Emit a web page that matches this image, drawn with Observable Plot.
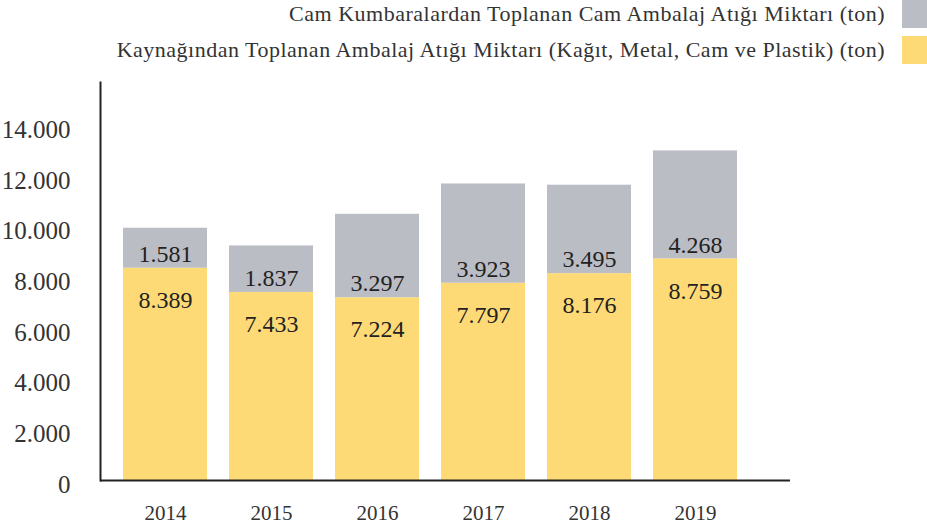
<!DOCTYPE html>
<html>
<head>
<meta charset="utf-8">
<script src="https://cdn.jsdelivr.net/npm/d3@7"></script>
<script src="https://cdn.jsdelivr.net/npm/@observablehq/plot@0.6"></script>
<style>
  html, body { margin: 0; padding: 0; background: #fff; }
  body { width: 927px; height: 531px; overflow: hidden; font-family: "Liberation Serif", serif; color: #333; }
  #legend { position: relative; height: 70px; }
  .row { position: absolute; right: 0; display: flex; align-items: center; }
  .row span { font-size: 22px; letter-spacing: 0.5px; color: #333; margin-right: 17px; white-space: nowrap; }
  .sw { width: 25px; height: 28px; }
</style>
</head>
<body>
<div id="legend"></div>
<div id="chart"></div>
<script>
const years = ["2014", "2015", "2016", "2017", "2018", "2019"];
const kaynak = [8389, 7433, 7224, 7797, 8176, 8759];   // yellow, bottom
const kumbara = [1581, 1837, 3297, 3923, 3495, 4268];  // gray, top
const seriesNames = [
  "Cam Kumbaralardan Toplanan Cam Ambalaj Atığı Miktarı (ton)",
  "Kaynağından Toplanan Ambalaj Atığı Miktarı (Kağıt, Metal, Cam ve Plastik) (ton)"
];
const seriesColors = ["#bbbdc5", "#fdda75"];
const yTicks = [0, 2000, 4000, 6000, 8000, 10000, 12000, 14000];

// legend
const legend = document.getElementById("legend");
seriesNames.forEach((name, i) => {
  const row = document.createElement("div");
  row.className = "row";
  row.style.top = (i === 0 ? 0 : 36) + "px";
  const s = document.createElement("span");
  s.textContent = name;
  const sw = document.createElement("div");
  sw.className = "sw";
  sw.style.background = seriesColors[i];
  row.appendChild(s);
  row.appendChild(sw);
  legend.appendChild(row);
});

const data = [];
years.forEach((y, i) => {
  data.push({year: y, series: seriesNames[1], value: kaynak[i], order: 0});
  data.push({year: y, series: seriesNames[0], value: kumbara[i], order: 1});
});
const fmt = v => d3.format(",")(v).replace(/,/g, ".");

const chart = Plot.plot({
  width: 927,
  height: 461,
  marginLeft: 100,
  marginRight: 137,
  marginTop: 12,
  marginBottom: 51,
  style: { fontFamily: "Liberation Serif, serif", background: "transparent", overflow: "visible" },
  x: { domain: years, paddingInner: 0.209, paddingOuter: 0.353, align: 0.307, label: null, axis: null },
  y: { domain: [0, 15730], label: null, axis: null },
  color: { domain: [seriesNames[1], seriesNames[0]], range: [seriesColors[1], seriesColors[0]] },
  marks: [
    Plot.barY(data, { x: "year", y: "value", fill: "series", order: "order" }),
    Plot.text(years.map((y, i) => ({year: y, v: kaynak[i]})), {
      x: "year", y: "v", text: d => fmt(d.v), dy: 32, fontSize: 24, fill: "#222"
    }),
    Plot.text(years.map((y, i) => ({year: y, v: kaynak[i], g: kumbara[i]})), {
      x: "year", y: "v", text: d => fmt(d.g), dy: -14, fontSize: 24, fill: "#222"
    }),
    Plot.axisY(yTicks, { tickSize: 0, tickPadding: 30, tickFormat: fmt, fontSize: 25, fill: "#333", dy: 4 }),
    Plot.axisX(years, { tickSize: 0, tickPadding: 25, fontSize: 21, fill: "#333" }),
    Plot.frame({ anchor: "left", stroke: "#222", strokeWidth: 2 }),
    Plot.ruleY([0], { stroke: "#222", strokeWidth: 2 })
  ]
});
document.getElementById("chart").appendChild(chart);
</script>
</body>
</html>
